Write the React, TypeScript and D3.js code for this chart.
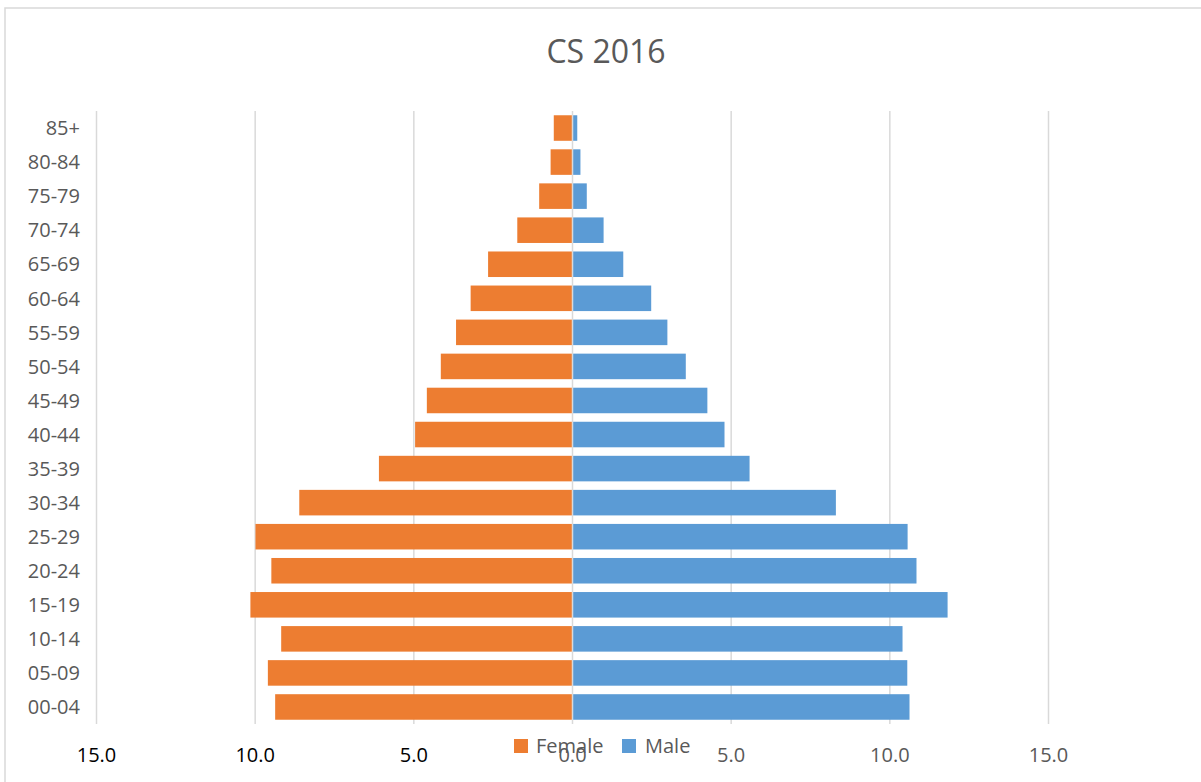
import React from "react";
import * as d3 from "d3";

const ageGroups = ["85+", "80-84", "75-79", "70-74", "65-69", "60-64", "55-59", "50-54", "45-49", "40-44", "35-39", "30-34", "25-29", "20-24", "15-19", "10-14", "05-09", "00-04"];
const femaleValues = [0.59, 0.69, 1.05, 1.74, 2.66, 3.21, 3.67, 4.15, 4.59, 4.96, 6.1, 8.61, 9.99, 9.49, 10.15, 9.18, 9.6, 9.37];
const maleValues = [0.15, 0.25, 0.45, 0.98, 1.6, 2.48, 2.99, 3.57, 4.25, 4.79, 5.58, 8.3, 10.56, 10.84, 11.82, 10.4, 10.55, 10.62];
const tickValues = [-15, -10, -5, 0, 5, 10, 15];
const tickLabels = ["15.0", "10.0", "5.0", "0.0", "5.0", "10.0", "15.0"];
const seriesNames = ["Female", "Male"];
const title = "CS 2016";

const W = 1201;
const H = 782;
const FONT = "'Open Sans', 'Liberation Sans', sans-serif";
const ORANGE = "#ED7D31";
const BLUE = "#5B9BD5";
const GRID = "#d9d9d9";
const TEXT = "#595959";

export default function App() {
  const x = d3.scaleLinear().domain([-15, 15]).range([96.5, 1048.5]);
  const y = d3.scaleBand<string>().domain(ageGroups).range([111, 724]).paddingInner(0.25).paddingOuter(0.125);
  const bw = y.bandwidth();

  return (
    <svg width={W} height={H} style={{ position: "absolute", left: 0, top: 0, background: "#fff" }} fontFamily={FONT}>
      <rect x={0} y={0} width={W} height={H} fill="#fff" />
      <path d={`M5,${H} V8 H${W}`} fill="none" stroke={GRID} strokeWidth={1.5} />
      <text x={606} y={63} textAnchor="middle" fontSize={32} fill={TEXT}>{title}</text>
      {tickValues.filter((t) => t !== 0).map((t) => (
        <line key={"g" + t} x1={x(t)} x2={x(t)} y1={111} y2={724} stroke={GRID} strokeWidth={1.5} />
      ))}
      {ageGroups.map((g, i) => (
        <rect key={"f" + g} x={x(-femaleValues[i])} y={y(g)} width={x(0) - x(-femaleValues[i])} height={bw} fill={ORANGE} />
      ))}
      {ageGroups.map((g, i) => (
        <rect key={"m" + g} x={x(0)} y={y(g)} width={x(maleValues[i]) - x(0)} height={bw} fill={BLUE} />
      ))}
      <line x1={x(0)} x2={x(0)} y1={111} y2={724} stroke={GRID} strokeWidth={1.5} />
      {ageGroups.map((g) => (
        <text key={"l" + g} x={80} y={(y(g) as number) + bw / 2} dy="0.36em" textAnchor="end" fontSize={20} fill={TEXT}>{g}</text>
      ))}
      <g>
        <rect x={514} y={739} width={14} height={14} fill={ORANGE} />
        <text x={536} y={753} fontSize={20} fill={TEXT}>{seriesNames[0]}</text>
        <rect x={622} y={739} width={14} height={14} fill={BLUE} />
        <text x={645} y={753} fontSize={20} fill={TEXT}>{seriesNames[1]}</text>
      </g>
      {tickValues.map((t, i) => (
        <text key={"t" + i} x={x(t)} y={762} textAnchor="middle" fontSize={20} fill={t < 0 ? "#000" : TEXT}>{tickLabels[i]}</text>
      ))}
    </svg>
  );
}
